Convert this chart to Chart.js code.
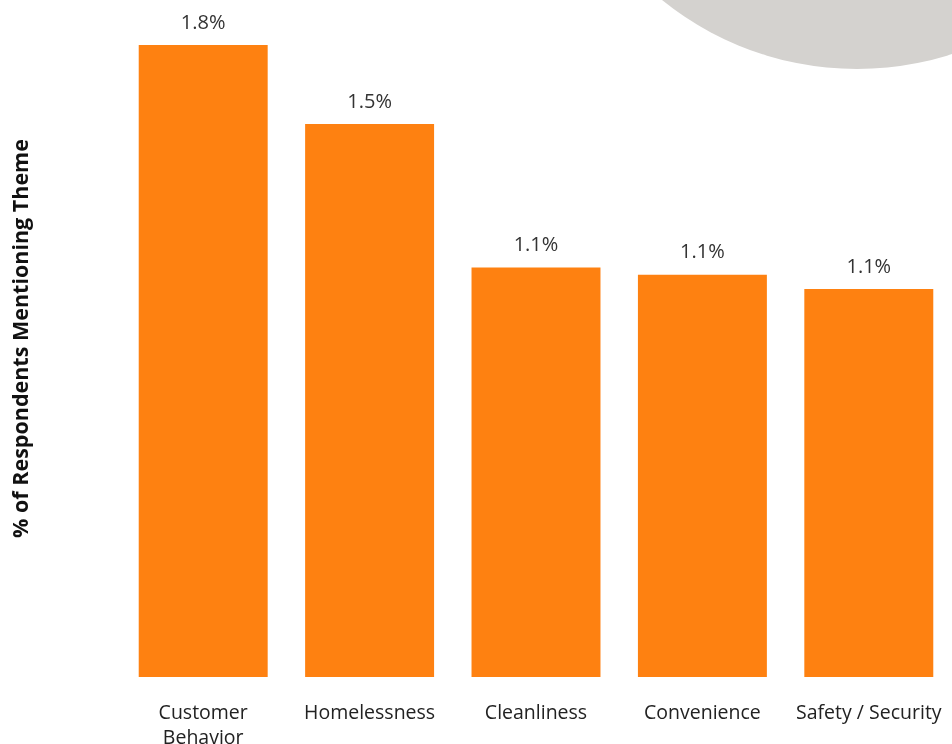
<!DOCTYPE html>
<html>
<head>
<meta charset="utf-8">
<script src="https://cdn.jsdelivr.net/npm/chart.js@4/dist/chart.umd.min.js"></script>
<style>
  html, body { margin: 0; padding: 0; background: #fff; overflow: hidden; }
  #wrap { position: relative; width: 952px; height: 744px; overflow: hidden; }
  #blob {
    position: absolute; left: 547px; top: -551px;
    width: 620px; height: 620px; border-radius: 50%;
    background: #d4d2cf;
  }
  #myChart { position: absolute; left: 0; top: 0; }
</style>
</head>
<body>
<div id="wrap">
  <div id="blob"></div>
  <canvas id="myChart" width="952" height="744"></canvas>
</div>
<script>
// data (labels round to one decimal)
var categories = [['Customer', 'Behavior'], 'Homelessness', 'Cleanliness', 'Convenience', 'Safety / Security'];
var shares = [1.76, 1.54, 1.14, 1.12, 1.08];
var yTitle = '% of Respondents Mentioning Theme';

// draw "x.x%" above each bar
var valueLabels = {
  id: 'valueLabels',
  afterDatasetsDraw: function(chart) {
    var ctx = chart.ctx;
    var meta = chart.getDatasetMeta(0);
    ctx.save();
    ctx.font = '20px "Open Sans", sans-serif';
    ctx.fillStyle = '#333';
    ctx.textAlign = 'center';
    ctx.textBaseline = 'middle';
    meta.data.forEach(function(bar, i) {
      ctx.fillText(shares[i].toFixed(1) + '%', bar.x, bar.y - 22);
    });
    ctx.restore();
  }
};

var ctx = document.getElementById('myChart');
var myChart = new Chart(ctx, {
  type: 'bar',
  data: {
    labels: categories,
    datasets: [{
      data: shares,
      backgroundColor: '#fe8111',
      borderWidth: 0,
      barPercentage: 0.775,
      categoryPercentage: 1
    }]
  },
  options: {
    responsive: false,
    animation: false,
    layout: { padding: 0 },
    plugins: {
      legend: { display: false },
      tooltip: { enabled: false }
    },
    scales: {
      x: {
        grid: { display: false, drawTicks: false },
        border: { display: false },
        ticks: {
          color: '#222',
          font: { family: '"Open Sans", sans-serif', size: 19.5, lineHeight: 1.3 },
          padding: 23.5,
          maxRotation: 0,
          autoSkip: false
        },
        afterFit: function(scale) {
          scale.height = 67;
          // let the last label run to the edge like the original
          scale.paddingLeft = 0;
          scale.paddingRight = 0;
        }
      },
      y: {
        min: 0,
        max: 1.885,
        grid: { display: false, drawTicks: false },
        border: { display: false },
        ticks: { display: false },
        title: {
          display: true,
          text: yTitle,
          color: '#111',
          font: { family: '"Open Sans", sans-serif', size: 21.5, weight: 'bold' },
          padding: { top: 9, bottom: 0 }
        },
        afterFit: function(scale) { scale.width = 120; }
      }
    }
  },
  plugins: [valueLabels]
});
</script>
</body>
</html>
